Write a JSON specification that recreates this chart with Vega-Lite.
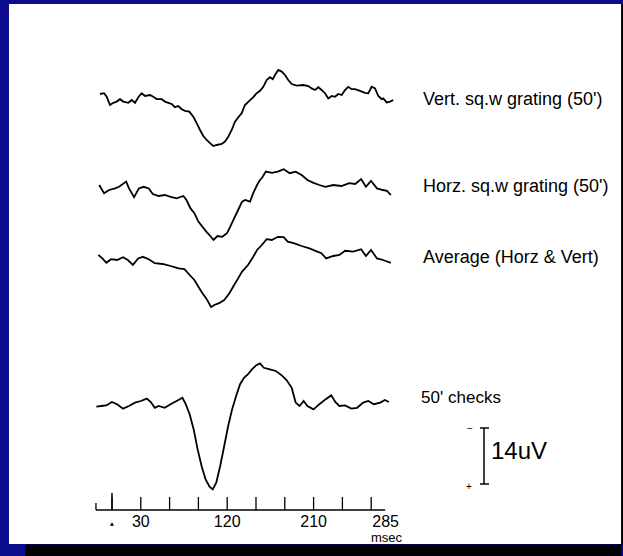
{
  "$schema": "https://vega.github.io/schema/vega-lite/v6.json",
  "width": 612,
  "height": 540,
  "autosize": "none",
  "padding": {"left": 9, "top": 4, "right": 2, "bottom": 12},
  "background": "#0c0c8e",
  "config": {
    "view": {"fill": "white", "stroke": null},
    "font": "Liberation Sans",
    "text": {"font": "Liberation Sans", "color": "black"},
    "axisX": {"labels": false, "ticks": false, "grid": false, "titleOpacity": 0, "domainColor": "black", "domainWidth": 12, "offset": 6, "domainDash": [0, 16, 620, 0]},
    "axisY": {"labels": false, "ticks": false, "grid": false, "titleOpacity": 0, "domainColor": "black", "domainWidth": 2}
  },
  "datasets": {
    "traces": [
      {"trace": "V", "t": -12.5, "uV": -1.5}, {"trace": "V", "t": -8.3, "uV": -1.7}, {"trace": "V", "t": -5.5, "uV": -0.8}, {"trace": "V", "t": -2.1, "uV": 1.25}, {"trace": "V", "t": 1.4, "uV": 0.7}, {"trace": "V", "t": 4.9, "uV": 0.4}, {"trace": "V", "t": 8.3, "uV": -0.2}, {"trace": "V", "t": 11.8, "uV": 0.4}, {"trace": "V", "t": 17.0, "uV": 0.7}, {"trace": "V", "t": 20.5, "uV": 0}, {"trace": "V", "t": 24.0, "uV": 0.7}, {"trace": "V", "t": 27.4, "uV": -0.7}, {"trace": "V", "t": 30.9, "uV": -1.7}, {"trace": "V", "t": 34.4, "uV": -1.0}, {"trace": "V", "t": 39.6, "uV": -1.25}, {"trace": "V", "t": 43.0, "uV": -0.8}, {"trace": "V", "t": 46.6, "uV": -0.25}, {"trace": "V", "t": 51.8, "uV": -0.2}, {"trace": "V", "t": 55.2, "uV": 0.4}, {"trace": "V", "t": 58.6, "uV": 0.7}, {"trace": "V", "t": 62.2, "uV": 1.0}, {"trace": "V", "t": 65.6, "uV": 1.8}, {"trace": "V", "t": 69.1, "uV": 1.5}, {"trace": "V", "t": 72.6, "uV": 2.3}, {"trace": "V", "t": 76.0, "uV": 2.7}, {"trace": "V", "t": 80.5, "uV": 2.9}, {"trace": "V", "t": 84.7, "uV": 4.2}, {"trace": "V", "t": 88.2, "uV": 5.8}, {"trace": "V", "t": 91.7, "uV": 7.5}, {"trace": "V", "t": 95.1, "uV": 9.0}, {"trace": "V", "t": 98.6, "uV": 10.0}, {"trace": "V", "t": 102.1, "uV": 10.8}, {"trace": "V", "t": 105.5, "uV": 11.5}, {"trace": "V", "t": 109.1, "uV": 11.25}, {"trace": "V", "t": 114.3, "uV": 11.0}, {"trace": "V", "t": 117.7, "uV": 10.4}, {"trace": "V", "t": 121.1, "uV": 9.2}, {"trace": "V", "t": 124.7, "uV": 7.5}, {"trace": "V", "t": 128.1, "uV": 5.4}, {"trace": "V", "t": 131.6, "uV": 4.3}, {"trace": "V", "t": 135.1, "uV": 3.3}, {"trace": "V", "t": 138.5, "uV": 1.25}, {"trace": "V", "t": 143.0, "uV": 0.2}, {"trace": "V", "t": 147.2, "uV": -0.7}, {"trace": "V", "t": 150.7, "uV": -1.7}, {"trace": "V", "t": 154.2, "uV": -2.3}, {"trace": "V", "t": 157.6, "uV": -3.3}, {"trace": "V", "t": 161.1, "uV": -5.0}, {"trace": "V", "t": 164.6, "uV": -5.7}, {"trace": "V", "t": 167.4, "uV": -5.2}, {"trace": "V", "t": 169.8, "uV": -6.25}, {"trace": "V", "t": 173.2, "uV": -7.5}, {"trace": "V", "t": 176.8, "uV": -7.1}, {"trace": "V", "t": 180.2, "uV": -6.25}, {"trace": "V", "t": 183.6, "uV": -5.0}, {"trace": "V", "t": 187.2, "uV": -4.0}, {"trace": "V", "t": 192.4, "uV": -3.6}, {"trace": "V", "t": 199.3, "uV": -3.75}, {"trace": "V", "t": 204.5, "uV": -3.5}, {"trace": "V", "t": 208.0, "uV": -2.9}, {"trace": "V", "t": 211.5, "uV": -2.5}, {"trace": "V", "t": 214.9, "uV": -3.2}, {"trace": "V", "t": 218.4, "uV": -2.5}, {"trace": "V", "t": 221.9, "uV": -1.7}, {"trace": "V", "t": 225.3, "uV": -0.4}, {"trace": "V", "t": 228.9, "uV": -1.0}, {"trace": "V", "t": 232.3, "uV": -0.8}, {"trace": "V", "t": 235.7, "uV": -1.5}, {"trace": "V", "t": 239.3, "uV": -1.25}, {"trace": "V", "t": 242.7, "uV": -2.5}, {"trace": "V", "t": 246.1, "uV": -3.3}, {"trace": "V", "t": 249.7, "uV": -2.7}, {"trace": "V", "t": 253.1, "uV": -2.7}, {"trace": "V", "t": 258.3, "uV": -2.3}, {"trace": "V", "t": 263.5, "uV": -1.8}, {"trace": "V", "t": 267.0, "uV": -1.7}, {"trace": "V", "t": 270.5, "uV": -3.3}, {"trace": "V", "t": 274.0, "uV": -2.9}, {"trace": "V", "t": 277.4, "uV": -1.0}, {"trace": "V", "t": 280.9, "uV": -0.2}, {"trace": "V", "t": 282.6, "uV": -0.4}, {"trace": "V", "t": 286.1, "uV": 0.6}, {"trace": "V", "t": 289.6, "uV": 0.4}, {"trace": "V", "t": 293.0, "uV": 0},
      {"trace": "H", "t": -13.3, "uV": -1.25}, {"trace": "H", "t": -8.3, "uV": 0.8}, {"trace": "H", "t": -3.0, "uV": 0}, {"trace": "H", "t": 3.2, "uV": -0.4}, {"trace": "H", "t": 7.3, "uV": -0.8}, {"trace": "H", "t": 14.8, "uV": -2.1}, {"trace": "H", "t": 17.7, "uV": -0.4}, {"trace": "H", "t": 23.0, "uV": 1.8}, {"trace": "H", "t": 28.0, "uV": -0.4}, {"trace": "H", "t": 33.0, "uV": -0.8}, {"trace": "H", "t": 38.3, "uV": -0.4}, {"trace": "H", "t": 42.5, "uV": 1.0}, {"trace": "H", "t": 48.6, "uV": 1.5}, {"trace": "H", "t": 54.9, "uV": 1.25}, {"trace": "H", "t": 61.0, "uV": 1.7}, {"trace": "H", "t": 67.3, "uV": 2.1}, {"trace": "H", "t": 74.3, "uV": 1.5}, {"trace": "H", "t": 77.6, "uV": 2.5}, {"trace": "H", "t": 81.8, "uV": 4.6}, {"trace": "H", "t": 85.8, "uV": 5.8}, {"trace": "H", "t": 90.0, "uV": 7.9}, {"trace": "H", "t": 94.2, "uV": 9.2}, {"trace": "H", "t": 98.2, "uV": 10.4}, {"trace": "H", "t": 102.4, "uV": 11.5}, {"trace": "H", "t": 105.7, "uV": 12.5}, {"trace": "H", "t": 109.9, "uV": 11.5}, {"trace": "H", "t": 114.8, "uV": 11.7}, {"trace": "H", "t": 119.8, "uV": 10.8}, {"trace": "H", "t": 123.1, "uV": 9.2}, {"trace": "H", "t": 127.2, "uV": 7.1}, {"trace": "H", "t": 131.4, "uV": 5.0}, {"trace": "H", "t": 135.5, "uV": 2.9}, {"trace": "H", "t": 138.8, "uV": 2.5}, {"trace": "H", "t": 143.8, "uV": 2.9}, {"trace": "H", "t": 147.1, "uV": 0.8}, {"trace": "H", "t": 151.1, "uV": -1.25}, {"trace": "H", "t": 154.1, "uV": -2.5}, {"trace": "H", "t": 156.1, "uV": -3.0}, {"trace": "H", "t": 160.3, "uV": -4.6}, {"trace": "H", "t": 166.5, "uV": -4.3}, {"trace": "H", "t": 172.7, "uV": -4.6}, {"trace": "H", "t": 178.9, "uV": -5.2}, {"trace": "H", "t": 185.1, "uV": -4.2}, {"trace": "H", "t": 191.3, "uV": -4.6}, {"trace": "H", "t": 197.5, "uV": -3.75}, {"trace": "H", "t": 203.6, "uV": -2.5}, {"trace": "H", "t": 209.9, "uV": -1.8}, {"trace": "H", "t": 216.0, "uV": -1.25}, {"trace": "H", "t": 222.3, "uV": -0.8}, {"trace": "H", "t": 230.5, "uV": -1.25}, {"trace": "H", "t": 238.9, "uV": -1.0}, {"trace": "H", "t": 247.1, "uV": -1.7}, {"trace": "H", "t": 253.3, "uV": -1.5}, {"trace": "H", "t": 259.5, "uV": -2.75}, {"trace": "H", "t": 264.5, "uV": -0.8}, {"trace": "H", "t": 269.8, "uV": -2.3}, {"trace": "H", "t": 276.0, "uV": -0.4}, {"trace": "H", "t": 282.3, "uV": 0}, {"trace": "H", "t": 286.4, "uV": 0.2}, {"trace": "H", "t": 290.5, "uV": 1.25},
      {"trace": "A", "t": -14.2, "uV": -0.75}, {"trace": "A", "t": -10.0, "uV": 0.1}, {"trace": "A", "t": -5.9, "uV": 1.2}, {"trace": "A", "t": -0.9, "uV": 0.3}, {"trace": "A", "t": 5.3, "uV": 0.5}, {"trace": "A", "t": 11.5, "uV": -0.2}, {"trace": "A", "t": 16.5, "uV": 0.5}, {"trace": "A", "t": 21.8, "uV": 1.75}, {"trace": "A", "t": 27.2, "uV": 0.1}, {"trace": "A", "t": 32.2, "uV": -0.3}, {"trace": "A", "t": 38.3, "uV": 0.3}, {"trace": "A", "t": 44.6, "uV": 1.3}, {"trace": "A", "t": 52.8, "uV": 1.5}, {"trace": "A", "t": 61.0, "uV": 2.0}, {"trace": "A", "t": 69.4, "uV": 2.6}, {"trace": "A", "t": 75.5, "uV": 2.8}, {"trace": "A", "t": 80.9, "uV": 4.25}, {"trace": "A", "t": 85.8, "uV": 5.5}, {"trace": "A", "t": 90.0, "uV": 7.2}, {"trace": "A", "t": 94.2, "uV": 8.8}, {"trace": "A", "t": 98.2, "uV": 10.1}, {"trace": "A", "t": 103.2, "uV": 12.25}, {"trace": "A", "t": 106.6, "uV": 11.75}, {"trace": "A", "t": 111.5, "uV": 11.3}, {"trace": "A", "t": 116.9, "uV": 10.5}, {"trace": "A", "t": 122.3, "uV": 8.8}, {"trace": "A", "t": 127.2, "uV": 6.75}, {"trace": "A", "t": 131.4, "uV": 5.1}, {"trace": "A", "t": 135.5, "uV": 3.4}, {"trace": "A", "t": 141.7, "uV": 1.75}, {"trace": "A", "t": 147.1, "uV": -0.3}, {"trace": "A", "t": 151.1, "uV": -2.0}, {"trace": "A", "t": 156.1, "uV": -3.25}, {"trace": "A", "t": 161.1, "uV": -4.7}, {"trace": "A", "t": 166.5, "uV": -4.5}, {"trace": "A", "t": 172.7, "uV": -5.3}, {"trace": "A", "t": 178.9, "uV": -5.2}, {"trace": "A", "t": 183.0, "uV": -4.1}, {"trace": "A", "t": 189.3, "uV": -3.7}, {"trace": "A", "t": 197.5, "uV": -3.0}, {"trace": "A", "t": 205.7, "uV": -2.4}, {"trace": "A", "t": 212.0, "uV": -1.8}, {"trace": "A", "t": 218.1, "uV": -1.2}, {"trace": "A", "t": 223.1, "uV": 0.1}, {"trace": "A", "t": 230.5, "uV": -0.5}, {"trace": "A", "t": 236.8, "uV": -0.75}, {"trace": "A", "t": 242.9, "uV": -1.8}, {"trace": "A", "t": 251.3, "uV": -1.6}, {"trace": "A", "t": 259.5, "uV": -2.2}, {"trace": "A", "t": 264.5, "uV": -0.5}, {"trace": "A", "t": 269.8, "uV": -2.0}, {"trace": "A", "t": 276.0, "uV": 0.1}, {"trace": "A", "t": 282.3, "uV": 0.5}, {"trace": "A", "t": 290.5, "uV": 1.2},
      {"trace": "C", "t": -16.3, "uV": 0.4}, {"trace": "C", "t": -11.3, "uV": 0.25}, {"trace": "C", "t": -5.9, "uV": 0.1}, {"trace": "C", "t": -0.1, "uV": -0.75}, {"trace": "C", "t": 5.3, "uV": -0.2}, {"trace": "C", "t": 11.5, "uV": 0.9}, {"trace": "C", "t": 17.7, "uV": 0.25}, {"trace": "C", "t": 23.9, "uV": -0.6}, {"trace": "C", "t": 30.1, "uV": -1.0}, {"trace": "C", "t": 36.3, "uV": -1.6}, {"trace": "C", "t": 40.4, "uV": -0.75}, {"trace": "C", "t": 44.6, "uV": 0.7}, {"trace": "C", "t": 48.6, "uV": 0.25}, {"trace": "C", "t": 54.9, "uV": 0.7}, {"trace": "C", "t": 61.0, "uV": -0.2}, {"trace": "C", "t": 67.3, "uV": -1.0}, {"trace": "C", "t": 73.4, "uV": -1.8}, {"trace": "C", "t": 76.8, "uV": -0.2}, {"trace": "C", "t": 80.9, "uV": 2.3}, {"trace": "C", "t": 85.1, "uV": 6.1}, {"trace": "C", "t": 89.2, "uV": 11.1}, {"trace": "C", "t": 93.3, "uV": 15.25}, {"trace": "C", "t": 97.5, "uV": 18.6}, {"trace": "C", "t": 101.6, "uV": 20.4}, {"trace": "C", "t": 104.9, "uV": 21.1}, {"trace": "C", "t": 108.6, "uV": 19.4}, {"trace": "C", "t": 112.7, "uV": 15.25}, {"trace": "C", "t": 116.9, "uV": 10.25}, {"trace": "C", "t": 121.0, "uV": 5.25}, {"trace": "C", "t": 125.1, "uV": 1.1}, {"trace": "C", "t": 129.3, "uV": -2.25}, {"trace": "C", "t": 133.4, "uV": -5.2}, {"trace": "C", "t": 137.5, "uV": -6.8}, {"trace": "C", "t": 141.7, "uV": -7.7}, {"trace": "C", "t": 145.8, "uV": -8.9}, {"trace": "C", "t": 150.0, "uV": -9.9}, {"trace": "C", "t": 154.1, "uV": -10.4}, {"trace": "C", "t": 158.2, "uV": -9.3}, {"trace": "C", "t": 164.4, "uV": -8.9}, {"trace": "C", "t": 170.6, "uV": -8.5}, {"trace": "C", "t": 176.8, "uV": -7.4}, {"trace": "C", "t": 181.8, "uV": -6.25}, {"trace": "C", "t": 187.2, "uV": -4.3}, {"trace": "C", "t": 191.3, "uV": -0.6}, {"trace": "C", "t": 195.4, "uV": 0.25}, {"trace": "C", "t": 199.6, "uV": -1.0}, {"trace": "C", "t": 203.6, "uV": 0.25}, {"trace": "C", "t": 209.9, "uV": 1.1}, {"trace": "C", "t": 216.0, "uV": -0.2}, {"trace": "C", "t": 222.3, "uV": -1.4}, {"trace": "C", "t": 228.4, "uV": -2.4}, {"trace": "C", "t": 232.6, "uV": -0.75}, {"trace": "C", "t": 236.8, "uV": 0.25}, {"trace": "C", "t": 242.9, "uV": 0.1}, {"trace": "C", "t": 249.2, "uV": 0.9}, {"trace": "C", "t": 255.3, "uV": 0.7}, {"trace": "C", "t": 261.6, "uV": -0.6}, {"trace": "C", "t": 267.0, "uV": -1.0}, {"trace": "C", "t": 272.7, "uV": -0.2}, {"trace": "C", "t": 279.4, "uV": -0.6}, {"trace": "C", "t": 284.3, "uV": -1.25}, {"trace": "C", "t": 288.4, "uV": -0.75}
    ],
    "ticks": [{"t": 0}, {"t": 30}, {"t": 60}, {"t": 90}, {"t": 120}, {"t": 150}, {"t": 180}, {"t": 210}, {"t": 240}, {"t": 270}],
    "tickLabels": [{"t": 30, "label": "30"}, {"t": 120, "label": "120"}, {"t": 210, "label": "210"}, {"t": 285, "label": "285"}]
  },
  "layer": [
    {
      "layer": [
        {
          "data": {"name": "traces"},
          "transform": [{"filter": "datum.trace === 'V'"}],
          "mark": {"type": "line", "color": "black", "strokeWidth": 1.8},
          "encoding": {
            "x": {"field": "t", "type": "quantitative", "title": null, "scale": {"domain": [-107.29, 530.21], "nice": false, "zero": false}},
            "y": {"field": "uV", "type": "quantitative", "title": null, "scale": {"domain": [-24, 111], "reverse": true, "nice": false, "zero": false}, "axis": {"orient": "right", "offset": 1}}
          }
        },
        {
          "data": {"values": [{"label": "Vert. sq.w grating (50')"}]},
          "mark": {"type": "text", "align": "left", "baseline": "middle", "fontSize": 18},
          "encoding": {
            "x": {"datum": 324},
            "y": {"datum": 0, "axis": {"orient": "right", "offset": 1}},
            "text": {"field": "label"}
          }
        }
      ]
    },
    {
      "layer": [
        {
          "data": {"name": "traces"},
          "transform": [{"filter": "datum.trace === 'H'"}],
          "mark": {"type": "line", "color": "black", "strokeWidth": 1.8},
          "encoding": {
            "x": {"field": "t", "type": "quantitative", "title": null},
            "y": {"field": "uV", "type": "quantitative", "scale": {"domain": [-46.5, 88.5], "reverse": true, "nice": false, "zero": false}, "axis": null}
          }
        },
        {
          "data": {"values": [{"label": "Horz. sq.w grating (50')"}]},
          "mark": {"type": "text", "align": "left", "baseline": "middle", "fontSize": 18},
          "encoding": {
            "x": {"datum": 324},
            "y": {"datum": -0.75, "axis": null},
            "text": {"field": "label"}
          }
        }
      ]
    },
    {
      "layer": [
        {
          "data": {"name": "traces"},
          "transform": [{"filter": "datum.trace === 'A'"}],
          "mark": {"type": "line", "color": "black", "strokeWidth": 1.8},
          "encoding": {
            "x": {"field": "t", "type": "quantitative", "title": null},
            "y": {"field": "uV", "type": "quantitative", "scale": {"domain": [-63.5, 71.5], "reverse": true, "nice": false, "zero": false}, "axis": null}
          }
        },
        {
          "data": {"values": [{"label": "Average (Horz & Vert)"}]},
          "mark": {"type": "text", "align": "left", "baseline": "middle", "fontSize": 18},
          "encoding": {
            "x": {"datum": 324},
            "y": {"datum": 0, "axis": null},
            "text": {"field": "label"}
          }
        }
      ]
    },
    {
      "layer": [
        {
          "data": {"name": "traces"},
          "transform": [{"filter": "datum.trace === 'C'"}],
          "mark": {"type": "line", "color": "black", "strokeWidth": 1.8},
          "encoding": {
            "x": {"field": "t", "type": "quantitative", "title": null},
            "y": {"field": "uV", "type": "quantitative", "scale": {"domain": [-100.25, 34.75], "reverse": true, "nice": false, "zero": false}, "axis": null}
          }
        },
        {
          "data": {"values": [{"label": "50' checks"}]},
          "mark": {"type": "text", "align": "left", "baseline": "middle", "fontSize": 17},
          "encoding": {
            "x": {"datum": 322},
            "y": {"datum": -1.75, "axis": null},
            "text": {"field": "label"}
          }
        },
        {
          "data": {"values": [{}]},
          "mark": {"type": "rule", "color": "black", "strokeWidth": 1.5},
          "encoding": {"x": {"datum": -16.7}, "x2": {"datum": 284.6}, "y": {"datum": 26.25, "axis": null}}
        },
        {
          "data": {"values": [{}]},
          "mark": {"type": "rule", "color": "black", "strokeWidth": 1.3},
          "encoding": {"x": {"datum": -16.7}, "y": {"datum": 24.5, "axis": null}, "y2": {"datum": 26.25}}
        },
        {
          "data": {"values": [{}]},
          "mark": {"type": "rule", "color": "black", "strokeWidth": 1.5},
          "encoding": {"x": {"datum": 0}, "y": {"datum": 22, "axis": null}, "y2": {"datum": 26.25}}
        },
        {
          "data": {"name": "ticks"},
          "mark": {"type": "rule", "color": "black", "strokeWidth": 1.3},
          "encoding": {"x": {"field": "t", "type": "quantitative", "title": null}, "y": {"datum": 23, "axis": null}, "y2": {"datum": 26.25}}
        },
        {
          "data": {"name": "tickLabels"},
          "mark": {"type": "text", "align": "center", "baseline": "middle", "fontSize": 16},
          "encoding": {"x": {"field": "t", "type": "quantitative", "title": null}, "y": {"datum": 29.3, "axis": null}, "text": {"field": "label"}}
        },
        {
          "data": {"values": [{"label": "msec"}]},
          "mark": {"type": "text", "align": "center", "baseline": "alphabetic", "fontSize": 13},
          "encoding": {"x": {"datum": 286}, "y": {"datum": 34.2, "axis": null}, "text": {"field": "label"}}
        },
        {
          "data": {"values": [{}]},
          "mark": {"type": "point", "shape": "triangle-up", "filled": true, "color": "black", "size": 18, "opacity": 1},
          "encoding": {"x": {"datum": 0}, "y": {"datum": 29.75, "axis": null}}
        },
        {
          "data": {"values": [{}]},
          "mark": {"type": "rule", "color": "black", "strokeWidth": 1.5},
          "encoding": {"x": {"datum": 387.5}, "y": {"datum": 5.75, "axis": null}, "y2": {"datum": 19.75}}
        },
        {
          "data": {"values": [{}]},
          "mark": {"type": "rule", "color": "black", "strokeWidth": 1.5},
          "encoding": {"x": {"datum": 383.3}, "x2": {"datum": 392.7}, "y": {"datum": 5.75, "axis": null}}
        },
        {
          "data": {"values": [{}]},
          "mark": {"type": "rule", "color": "black", "strokeWidth": 1.5},
          "encoding": {"x": {"datum": 383.3}, "x2": {"datum": 392.7}, "y": {"datum": 19.75, "axis": null}}
        },
        {
          "data": {"values": [{"label": "14uV"}]},
          "mark": {"type": "text", "align": "left", "baseline": "middle", "fontSize": 24},
          "encoding": {"x": {"datum": 394.8}, "y": {"datum": 11.75, "axis": null}, "text": {"field": "label"}}
        },
        {
          "data": {"values": [{"label": "−"}]},
          "mark": {"type": "text", "align": "center", "baseline": "middle", "fontSize": 10, "color": "black"},
          "encoding": {"x": {"datum": 372.9}, "y": {"datum": 6, "axis": null}, "text": {"field": "label"}}
        },
        {
          "data": {"values": [{"label": "+"}]},
          "mark": {"type": "text", "align": "center", "baseline": "middle", "fontSize": 10, "color": "black"},
          "encoding": {"x": {"datum": 371.9}, "y": {"datum": 20.5, "axis": null}, "text": {"field": "label"}}
        }
      ]
    }
  ],
  "resolve": {"scale": {"y": "independent"}, "axis": {"y": "independent"}}
}
